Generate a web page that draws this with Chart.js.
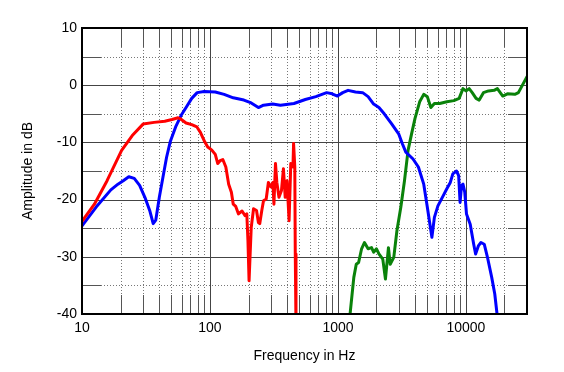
<!DOCTYPE html>
<html>
<head>
<meta charset="utf-8">
<script src="https://cdn.jsdelivr.net/npm/chart.js@4"></script>
<style>
  html, body { margin:0; padding:0; background:#fff; }
  #wrap { width:564px; height:372px; }
</style>
</head>
<body>
<div id="wrap"><canvas id="c" width="564" height="372"></canvas></div>
<script>
// ---- data ----
const redFreq = [10,12.5,15.7,20.4,24.7,30,36.6,44.3,50.5,56.3,59,65,72,79,84,91,96,103,110,115,120,126,133,140,147,152,159,167,178,188,194,198,202,206,210,219,231,239,245,254,262,275,286,300,310,316,325,333,346,362,375,387,400,415,428,445,450,460,464,470];
const redDb   = [-23.8,-20.8,-16.7,-11.4,-8.8,-6.8,-6.5,-6.3,-6.0,-5.7,-5.9,-6.6,-6.9,-7.3,-8.2,-9.9,-10.8,-11.3,-12.1,-13.7,-13.2,-13.0,-14.3,-17.3,-18.7,-20.8,-21.2,-22.5,-22.0,-22.8,-22.5,-27.2,-34.2,-29.5,-24.9,-21.6,-21.9,-24.0,-24.2,-21.9,-20.2,-19.9,-17.0,-17.8,-17.0,-20.8,-13.7,-17.0,-19.6,-18.4,-14.6,-19.6,-16.7,-23.7,-13.7,-14.3,-10.2,-14.3,-29.5,-42];

const blueFreq = [10,12.9,16.8,19.1,21,23.2,25.6,28.2,31,33.8,36,37.7,40.2,42.9,45.8,48.9,53.9,59.4,65.4,72,79.4,90,110,129,152,184,210,239,262,309,355,453,556,672,816,900,990,1090,1200,1370,1560,1720,1900,2090,2300,2620,2980,3180,3390,3860,4250,4680,4990,5320,5420,5670,6040,6650,7090,7550,7900,8440,8770,9000,9240,9480,9790,10100,10800,11500,11900,12500,13100,13900,14700,15900,16800,17600];
const blueDb   = [-24.6,-21.3,-18.3,-17.3,-16.7,-16.0,-16.3,-17.5,-19.6,-21.9,-24.2,-23.6,-19.6,-16.1,-12.6,-9.9,-7.3,-5.3,-3.8,-2.3,-1.3,-1.1,-1.2,-1.6,-2.2,-2.6,-3.1,-3.9,-3.5,-3.3,-3.5,-3.2,-2.5,-2.0,-1.3,-1.5,-1.9,-1.3,-0.9,-1.2,-1.3,-2.0,-3.3,-3.9,-5.0,-6.7,-8.5,-10.2,-11.7,-12.9,-14.3,-17.3,-21.3,-25.4,-26.6,-23.1,-21.1,-19.3,-18.1,-17.0,-15.5,-15.0,-15.8,-20.5,-17.5,-17.3,-18.7,-22.5,-24.3,-27.8,-29.5,-28.1,-27.5,-27.8,-30,-33.6,-36.5,-40.5];

const greenFreq = [1240,1330,1390,1450,1530,1610,1720,1830,1900,2000,2090,2240,2350,2480,2560,2730,2890,3100,3310,3530,3760,4000,4350,4680,4990,5320,5670,6230,7090,8050,8850,9480,10000,10600,11200,12000,12700,13700,15000,16600,17600,19400,21100,24100,25700,30000];
const greenDb   = [-40.3,-33.6,-31.3,-31.0,-28.6,-27.5,-28.6,-28.4,-29.2,-28.6,-29.5,-30.4,-33.9,-28.4,-31.3,-30.1,-25.4,-21.3,-16.7,-11.4,-8.5,-5.8,-2.9,-1.6,-2.0,-3.9,-3.2,-3.2,-2.9,-2.7,-2.3,-0.6,-1.0,-0.6,-1.3,-2.3,-2.6,-1.3,-1.0,-0.9,-0.6,-1.9,-1.5,-1.6,-1.3,1.5];

// ---- ticks / grid values ----
const xTickValues = [10,100,1000,10000];
const xMajorGrid = [100,1000,10000];
const xMinorGrid = [20,30,40,50,60,70,80,90,200,300,400,500,600,700,800,900,2000,3000,4000,5000,6000,7000,8000,9000,20000];
const yMajorGrid = [0,-10,-20,-30];
const yMinorGrid = [5,-5,-15,-25,-35];

const toPts = (xs, ys) => xs.map((v, i) => ({x: v, y: ys[i]}));

const gridPlugin = {
  id: 'customGrid',
  beforeDatasetsDraw(chart) {
    const {ctx, chartArea: a, scales: {x, y}} = chart;
    const seg = 19;
    ctx.save();
    ctx.lineWidth = 1;
    // minor horizontal
    yMinorGrid.forEach(v => {
      const py = Math.round(y.getPixelForValue(v)) + 0.5;
      ctx.strokeStyle = '#777';
      ctx.setLineDash([1, 2]);
      ctx.beginPath(); ctx.moveTo(a.left + seg, py); ctx.lineTo(a.right - seg, py); ctx.stroke();
      ctx.setLineDash([]);
      ctx.strokeStyle = '#555';
      ctx.beginPath(); ctx.moveTo(a.left, py); ctx.lineTo(a.left + seg, py);
      ctx.moveTo(a.right - seg, py); ctx.lineTo(a.right, py); ctx.stroke();
    });
    // minor vertical
    xMinorGrid.forEach(v => {
      const px = Math.round(x.getPixelForValue(v)) + 0.5;
      ctx.strokeStyle = '#777';
      ctx.setLineDash([1, 2]);
      ctx.beginPath(); ctx.moveTo(px, a.top + seg); ctx.lineTo(px, a.bottom - seg); ctx.stroke();
      ctx.setLineDash([]);
      ctx.strokeStyle = '#555';
      ctx.beginPath(); ctx.moveTo(px, a.top); ctx.lineTo(px, a.top + seg);
      ctx.moveTo(px, a.bottom - seg); ctx.lineTo(px, a.bottom); ctx.stroke();
    });
    // major
    ctx.setLineDash([]);
    ctx.strokeStyle = '#444';
    yMajorGrid.forEach(v => {
      const py = Math.round(y.getPixelForValue(v)) + 0.5;
      ctx.beginPath(); ctx.moveTo(a.left, py); ctx.lineTo(a.right, py); ctx.stroke();
    });
    xMajorGrid.forEach(v => {
      const px = Math.round(x.getPixelForValue(v)) + 0.5;
      ctx.beginPath(); ctx.moveTo(px, a.top); ctx.lineTo(px, a.bottom); ctx.stroke();
    });
    ctx.restore();
  },
  afterDatasetsDraw(chart) {
    const {ctx, chartArea: a} = chart;
    ctx.save();
    ctx.strokeStyle = '#000';
    ctx.lineWidth = 2;
    ctx.strokeRect(a.left, a.top, a.right - a.left, a.bottom - a.top);
    ctx.restore();
  }
};

const font = {family: '"Liberation Sans", Arial, sans-serif', size: 14};

new Chart(document.getElementById('c'), {
  type: 'line',
  data: {
    datasets: [
      {data: toPts(redFreq, redDb), borderColor: '#ff0000'},
      {data: toPts(blueFreq, blueDb), borderColor: '#0000ff'},
      {data: toPts(greenFreq, greenDb), borderColor: '#0a820a'}
    ]
  },
  options: {
    responsive: false,
    animation: false,
    parsing: true,
    elements: {
      line: {borderWidth: 3, tension: 0, borderJoinStyle: 'round', borderCapStyle: 'round'},
      point: {radius: 0}
    },
    layout: {padding: {left: 0, top: 28, right: 37, bottom: 0}},
    plugins: {legend: {display: false}, tooltip: {enabled: false}},
    scales: {
      x: {
        type: 'logarithmic',
        min: 10, max: 30000,
        grid: {display: false, drawTicks: false},
        border: {display: false},
        afterBuildTicks: s => { s.ticks = xTickValues.map(v => ({value: v})); },
        afterFit: s => { s.height = 58; },
        ticks: {
          font, color: '#000', padding: 6, maxRotation: 0, autoSkip: false,
          callback: v => String(v)
        },
        title: {display: true, text: 'Frequency in Hz', font, color: '#000', padding: {top: 0, bottom: 7}}
      },
      y: {
        type: 'linear',
        min: -40, max: 10,
        grid: {display: false, drawTicks: false},
        border: {display: false},
        afterFit: s => { s.width = 82; },
        ticks: {font, color: '#000', padding: 5, stepSize: 10},
        title: {display: true, text: 'Amplitude in dB', font, color: '#000', padding: {top: 20, bottom: 0}}
      }
    }
  },
  plugins: [gridPlugin]
});
</script>
</body>
</html>
